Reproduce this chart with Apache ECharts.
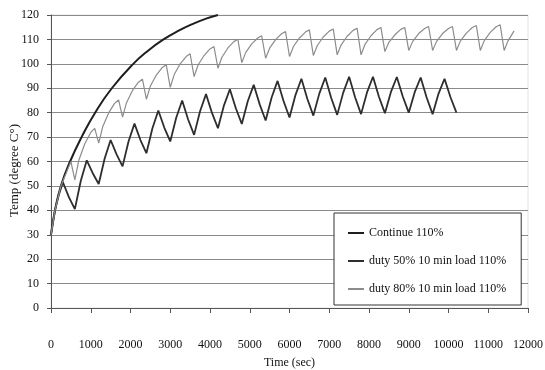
<!DOCTYPE html>
<html>
<head>
<meta charset="utf-8">
<script src="https://cdn.jsdelivr.net/npm/echarts@6/dist/echarts.min.js"></script>
<style>
  html, body { margin: 0; padding: 0; background: #fff; }
  #chart { width: 545px; height: 370px; }
</style>
</head>
<body>
<div id="chart"></div>
<script>
// Temperature rise under 110% load: continuous vs. duty-cycled operation
var seriesNames = ['Continue 110%', 'duty 50% 10 min load 110%', 'duty 80% 10 min load 110%'];

var continueTimes = [0, 100, 250, 480, 770, 1110, 1530, 2070, 2450, 2830, 3200, 3600, 3900, 4200];
var continueTemps = [30, 40, 50, 60, 70, 80, 90, 100, 105.5, 110, 113.5, 116.6, 118.5, 120];

var duty50Times = [0, 100, 200, 300, 450, 600, 750, 900, 1050, 1200, 1350, 1500, 1650, 1800,
  1950, 2100, 2250, 2400, 2550, 2700, 2850, 3000, 3150, 3300, 3450, 3600, 3750, 3900, 4050,
  4200, 4350, 4500, 4650, 4800, 4950, 5100, 5250, 5400, 5550, 5700, 5850, 6000, 6150, 6300,
  6450, 6600, 6750, 6900, 7050, 7200, 7350, 7500, 7650, 7800, 7950, 8100, 8250, 8400, 8550,
  8700, 8850, 9000, 9150, 9300, 9450, 9600, 9750, 9900, 10050, 10200];
var duty50Temps = [30, 40, 46.5, 51.5, 45.4, 40.5, 52.1, 60.5, 55.2, 50.8, 61.2, 68.8, 62.9, 58,
  68.2, 75.5, 68.8, 63.4, 73.5, 80.9, 73.9, 68.2, 77.9, 85, 77.2, 70.9, 80.6, 87.6, 79.9,
  73.6, 82.9, 89.6, 81.8, 75.4, 84.7, 91.4, 83.4, 76.8, 86.2, 93, 84.8, 78, 87.2, 93.9,
  85.6, 78.8, 87.8, 94.4, 86.0, 79.1, 88.1, 94.7, 86.3, 79.4, 88.3, 94.7, 86.5, 79.8, 88.4,
  94.6, 86.6, 80, 88.4, 94.4, 86.2, 79.4, 87.8, 93.9, 86.3, 80];

var duty80Times = [0, 100, 250, 500, 600, 700, 850, 1000, 1100, 1200, 1300, 1450, 1600, 1700,
  1800, 1900, 2050, 2200, 2300, 2400, 2500, 2650, 2800, 2900, 3000, 3100, 3250, 3400, 3500,
  3600, 3700, 3850, 4000, 4100, 4200, 4300, 4450, 4600, 4700, 4800, 4900, 5050, 5200, 5300,
  5400, 5500, 5650, 5800, 5900, 6000, 6100, 6250, 6400, 6500, 6600, 6700, 6850, 7000, 7100,
  7200, 7300, 7450, 7600, 7700, 7800, 7900, 8050, 8200, 8300, 8400, 8500, 8650, 8800, 8900,
  9000, 9100, 9250, 9400, 9500, 9600, 9700, 9850, 10000, 10100, 10200, 10300, 10450, 10600, 10700,
  10800, 10900, 11050, 11200, 11300, 11400, 11500, 11650];
var duty80Temps = [30, 40, 50, 60, 52.5, 60.5, 67.3, 71.9, 73.6, 67.5, 74.2, 79.9, 83.8, 85.2,
  78.2, 84.1, 89.1, 92.5, 93.7, 85.5, 90.9, 95.4, 98.5, 99.6, 90.4, 95.6, 100.0, 103.0, 104.1,
  94.8, 99.5, 103.4, 106.1, 107.1, 98.2, 102.7, 106.5, 109.1, 110.1, 100.5, 104.7, 108.2, 110.6, 111.5,
  102.3, 106.4, 109.9, 112.3, 113.2, 103, 107.1, 110.6, 113.0, 113.9, 103.4, 107.5, 111.0, 113.4, 114.3,
  103.7, 107.8, 111.3, 113.7, 114.6, 103.7, 108.0, 111.5, 114.0, 114.9, 105, 108.8, 111.9, 114.1, 114.9,
  105.5, 109.2, 112.4, 114.5, 115.3, 105.5, 109.2, 112.4, 114.5, 115.3, 105.5, 109.4, 112.6, 114.9, 115.7,
  105.5, 109.5, 112.9, 115.2, 116, 105.5, 109.5, 113.5];

var yTicks = { min: 0, max: 120, interval: 10 };
var xTicks = { min: 0, max: 12000, interval: 1000 };

function pairs(xs, ys) {
  return xs.map(function (x, i) { return [x, ys[i]]; });
}

var FONT = '"Liberation Serif", "DejaVu Serif", serif';

var chart = echarts.init(document.getElementById('chart'), null, { renderer: 'canvas' });
chart.setOption({
  animation: false,
  backgroundColor: '#fff',
  textStyle: { fontFamily: FONT, color: '#111' },
  grid: {
    left: 51, right: 17, top: 15, bottom: 62,
    outerBoundsMode: 'none',
    containLabel: false,
    show: true, borderColor: '#e2e2e2', borderWidth: 1
  },
  xAxis: {
    type: 'value',
    min: xTicks.min, max: xTicks.max, interval: xTicks.interval,
    name: 'Time (sec)',
    nameLocation: 'middle',
    nameGap: 49,
    nameMoveOverlap: false,
    nameTextStyle: { fontFamily: FONT, fontSize: 12, color: '#111' },
    axisLine: { show: true, lineStyle: { color: '#555', width: 1 } },
    axisTick: { show: true, length: 5, lineStyle: { color: '#555' } },
    axisLabel: {
      margin: 31, fontFamily: FONT, fontSize: 12, color: '#111',
      formatter: function (v) { return String(v); }
    },
    splitLine: { show: false }
  },
  yAxis: {
    type: 'value',
    min: yTicks.min, max: yTicks.max, interval: yTicks.interval,
    name: 'Temp (degree C°)',
    nameLocation: 'middle',
    nameGap: 30,
    nameMoveOverlap: false,
    nameTextStyle: { fontFamily: FONT, fontSize: 13, color: '#111', padding: [0, 18, 0, 0] },
    axisLine: { show: true, lineStyle: { color: '#555', width: 1 } },
    axisTick: { show: true, length: 4, lineStyle: { color: '#555' } },
    axisLabel: { margin: 12, fontFamily: FONT, fontSize: 12, color: '#111' },
    splitLine: { show: true, lineStyle: { color: '#8a8a8a', width: 1 } }
  },
  legend: {
    orient: 'vertical',
    left: 334, top: 213,
    padding: [14, 15, 10, 14],
    itemGap: 16,
    itemWidth: 16,
    itemHeight: 2,
    icon: 'rect',
    backgroundColor: '#fff',
    borderColor: '#333',
    borderWidth: 1,
    borderRadius: 0,
    textStyle: { fontFamily: FONT, fontSize: 12, color: '#111' },
    data: seriesNames
  },
  series: [
    {
      name: seriesNames[0], type: 'line', showSymbol: false, symbol: 'none', smooth: true,
      color: '#1e1e1e', lineStyle: { color: '#1e1e1e', width: 2 },
      data: pairs(continueTimes, continueTemps)
    },
    {
      name: seriesNames[1], type: 'line', showSymbol: false, symbol: 'none', smooth: false,
      color: '#2e2e2e', lineStyle: { color: '#2e2e2e', width: 1.8 },
      data: pairs(duty50Times, duty50Temps)
    },
    {
      name: seriesNames[2], type: 'line', showSymbol: false, symbol: 'none', smooth: false,
      color: '#8c8c8c', lineStyle: { color: '#8c8c8c', width: 1.2 },
      data: pairs(duty80Times, duty80Temps)
    }
  ]
});
</script>
</body>
</html>
